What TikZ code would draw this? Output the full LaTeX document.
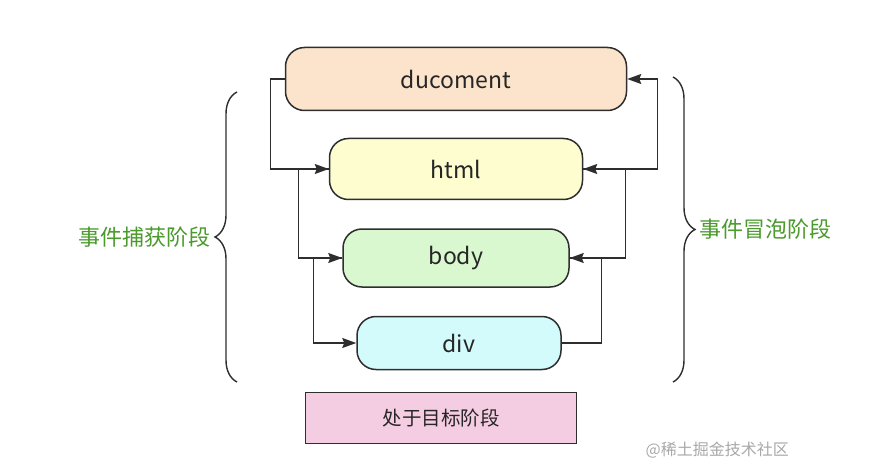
\documentclass[tikz,border=0pt]{standalone}
\usepackage{fontspec}
\setmainfont{Noto Sans CJK SC}
\usepackage{tikz}
\usetikzlibrary{arrows.meta, positioning, calc, decorations.pathreplacing}
\usepackage{xcolor}
\definecolor{docfill}{HTML}{FBE3CC}
\definecolor{htmlfill}{HTML}{FDFDD0}
\definecolor{bodyfill}{HTML}{DAF8CF}
\definecolor{divfill}{HTML}{D4FBFB}
\definecolor{targetfill}{HTML}{F5CDE3}
\definecolor{linegray}{HTML}{2E2E2E}
\definecolor{phasegreen}{HTML}{4A9A2C}
\definecolor{markgray}{HTML}{A8A8A8}

\begin{document}
\begin{tikzpicture}[x=1pt, y=-1pt,
  capsule/.style={rectangle, rounded corners=19pt, draw=linegray, line width=1.5pt,
    inner sep=0pt, font=\fontsize{23}{26}\selectfont, text=black!85},
  flow/.style={draw=linegray, line width=1.4pt,
    -{Stealth[length=14pt, width=10pt, inset=2pt]}},
  phasebrace/.style={draw=linegray, line width=1.4pt,
    decorate, decoration={brace, amplitude=22pt, aspect=0.5}},
  phase/.style={text=phasegreen, font=\fontsize{22}{25}\selectfont, inner sep=0pt}]
\useasboundingbox (0,0) rectangle (876,476);

% DOM levels
\node[capsule, fill=docfill, minimum width=341pt, minimum height=63pt] (doc) at (456,79) {ducoment};
\node[capsule, fill=htmlfill, minimum width=253pt, minimum height=61pt] (html) at (456,169) {html};
\node[capsule, fill=bodyfill, minimum width=226pt, minimum height=58pt] (body) at (456,258) {body};
\node[capsule, fill=divfill, minimum width=204pt, minimum height=53pt] (div) at (459,343) {div};
\node[rectangle, draw=linegray, line width=1.5pt, fill=targetfill,
      minimum width=271pt, minimum height=51pt, inner sep=0pt,
      font=\fontsize{19.5}{22}\selectfont, text=black!85] (target) at (441,418) {处于目标阶段};

% capture (left side)
\draw[flow] (doc.west) -- ++(-14,0) |- (html.west);
\draw[flow] (html.west) -- ++(-30,0) |- (body.west);
\draw[flow] (body.west) -- ++(-29,0) |- (div.west);

% bubble (right side)
\draw[flow] (div.east) -- ++(40,0) |- (body.east);
\draw[flow] (body.east) -- ++(56,0) |- (html.east);
\draw[flow] (html.east) -- ++(74,0) |- (doc.east);

% phase braces
\coordinate (capbot) at (237,382);
\coordinate (captop) at (237,92);
\coordinate (bubtop) at (673,77);
\coordinate (bubbot) at (673,382);
\draw[phasebrace] (capbot) -- (captop);
\draw[phasebrace] (bubtop) -- (bubbot);
\node[phase, anchor=east] (capture) at (211,237) {事件捕获阶段};
\node[phase, anchor=west] (bubble) at (699,229) {事件冒泡阶段};

\node[text=markgray, font=\fontsize{16}{19}\selectfont, anchor=east, inner sep=0pt] (mark) at (789,450) {@稀土掘金技术社区};
\end{tikzpicture}
\end{document}
